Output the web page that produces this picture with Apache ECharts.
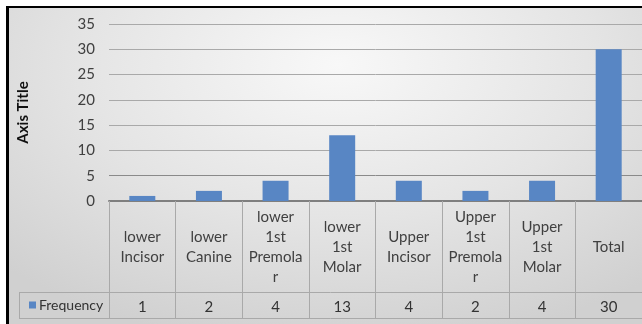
<!DOCTYPE html>
<html>
<head>
<meta charset="utf-8">
<script src="https://cdn.jsdelivr.net/npm/echarts@6/dist/echarts.min.js"></script>
<style>
  html, body { margin: 0; padding: 0; background: #ffffff; }
  #bg { position: absolute; left: 6px; top: 6px; width: 636px; height: 318px;
        border-top: 2px solid #000; border-left: 3px solid #000; box-sizing: border-box;
        background: radial-gradient(ellipse 75% 90% at 52% 18%, #f8f8f8 0%, #e4e4e4 55%, #d0d0d0 100%); }
  #chart { position: absolute; left: 0; top: 0; width: 642px; height: 324px; }
</style>
</head>
<body>
<div id="bg"></div>
<div id="chart"></div>
<script>
const categories = ['lower Incisor', 'lower Canine', 'lower 1st Premolar', 'lower 1st Molar',
                    'Upper Incisor', 'Upper 1st Premolar', 'Upper 1st Molar', 'Total'];
const tickLabels = ['lower\nIncisor', 'lower\nCanine', 'lower\n1st\nPremola\nr', 'lower\n1st\nMolar',
                    'Upper\nIncisor', 'Upper\n1st\nPremola\nr', 'Upper\n1st\nMolar', 'Total'];
const frequency = [1, 2, 4, 13, 4, 2, 4, 30];
const seriesName = 'Frequency';
const yTicks = [0, 5, 10, 15, 20, 25, 30, 35];

const FONT = 'Lato, "Open Sans", sans-serif';
const chart = echarts.init(document.getElementById('chart'), null, { renderer: 'canvas' });
const lineCol = '#a9a9a9';

chart.setOption({
  backgroundColor: 'transparent',
  animation: false,
  textStyle: { fontFamily: FONT },
  grid: { left: 109, right: -4, top: 24, bottom: 123, containLabel: false },
  legend: {
    show: true, left: 24, top: 293, icon: 'rect', itemWidth: 7, itemHeight: 7, itemGap: 4,
    data: [seriesName],
    textStyle: { fontFamily: FONT, fontSize: 14, color: '#333333', padding: [0, 0, 0, -2] }
  },
  xAxis: [
    {
      type: 'category', data: categories, position: 'bottom',
      axisLine: { show: true, lineStyle: { color: '#7f7f7f', width: 2 } },
      axisTick: { show: true, length: 117, interval: 0, lineStyle: { color: lineCol, width: 1 } },
      axisLabel: {
        interval: 0, margin: 46, verticalAlign: 'middle', lineHeight: 20,
        fontFamily: FONT, fontSize: 15, color: '#404040',
        formatter: (v, i) => tickLabels[i]
      },
      splitLine: { show: false }
    },
    {
      type: 'category', data: categories, position: 'bottom',
      axisLine: { show: false }, axisTick: { show: false },
      axisLabel: {
        interval: 0, margin: 106, verticalAlign: 'middle',
        fontFamily: FONT, fontSize: 15, color: '#333333',
        formatter: (v, i) => String(frequency[i])
      }
    }
  ],
  yAxis: {
    type: 'value', min: yTicks[0], max: yTicks[yTicks.length - 1], interval: 5,
    name: 'Axis Title', nameLocation: 'middle', nameGap: 78,
    nameTextStyle: { fontFamily: FONT, fontWeight: 'bold', fontSize: 15, color: '#111111' },
    axisLine: { show: false }, axisTick: { show: false },
    axisLabel: { margin: 14, fontFamily: FONT, fontSize: 15, color: '#404040' },
    splitLine: { show: true, lineStyle: { color: ['#7f7f7f', '#8a8a8a', lineCol, lineCol, lineCol, lineCol, lineCol, lineCol], width: 1 } }
  },
  graphic: [
    { type: 'line', shape: { x1: 19, y1: 292.5, x2: 642, y2: 292.5 }, style: { stroke: lineCol, lineWidth: 1 }, z: 10 },
    { type: 'line', shape: { x1: 19, y1: 318.5, x2: 642, y2: 318.5 }, style: { stroke: lineCol, lineWidth: 1 }, z: 10 },
    { type: 'line', shape: { x1: 19.5, y1: 292, x2: 19.5, y2: 319 }, style: { stroke: lineCol, lineWidth: 1 }, z: 10 }
  ],
  series: [{
    name: seriesName, type: 'bar', data: frequency, xAxisIndex: 0,
    barWidth: 26,
    itemStyle: { color: '#5886c4' }
  }]
});
</script>
</body>
</html>
